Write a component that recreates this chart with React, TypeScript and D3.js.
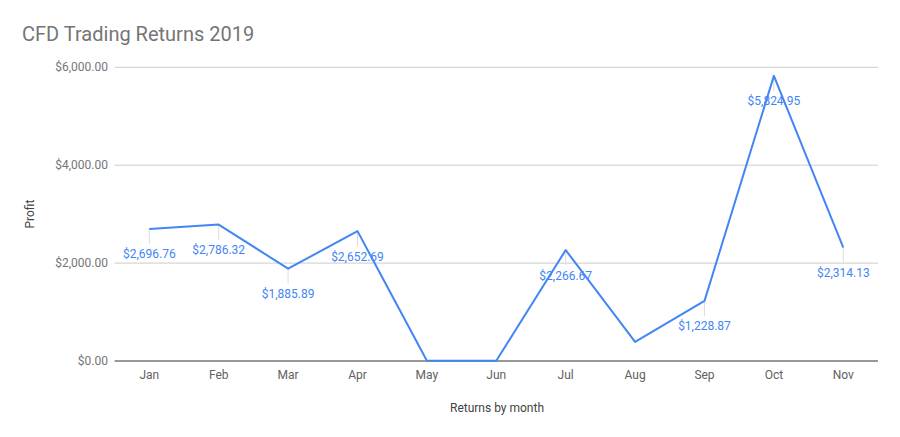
import React from "react";
import * as d3 from "d3";

const months = ["Jan", "Feb", "Mar", "Apr", "May", "Jun", "Jul", "Aug", "Sep", "Oct", "Nov"];
const profits = [2696.76, 2786.32, 1885.89, 2652.69, 5, 5, 2266.67, 390, 1228.87, 5824.95, 2314.13];
const showLabel = [true, true, true, true, false, false, true, false, true, true, true];
const yTicks = [0, 2000, 4000, 6000];

const W = 900, H = 437;
const left = 114.6, right = 878, top = 67.3, bottom = 361;

export default function App() {
  const x = d3.scaleBand<string>().domain(months).range([left, right]);
  const y = d3.scaleLinear().domain([0, 6000]).range([bottom, top]);
  const fmt = (v: number) => "$" + d3.format(",.2f")(v);
  const line = d3.line<number>()
    .x((_, i) => (x(months[i]) as number) + x.bandwidth() / 2)
    .y((d) => y(d));
  const font = "Roboto, 'Noto Sans', sans-serif";
  return (
    <svg width={W} height={H} style={{ position: "absolute", left: 0, top: 0, fontFamily: font }}>
      <rect width={W} height={H} fill="#fff" />
      <text x={22} y={41} fontSize={20} fill="#757575">CFD Trading Returns 2019</text>
      {yTicks.map((t) => (
        <g key={t}>
          <line x1={left} x2={right} y1={y(t)} y2={y(t)} stroke={t === 0 ? "#333" : "#ccc"} strokeWidth={1} />
          <text x={108} y={y(t) + 4} fontSize={12} fill="#757575" textAnchor="end">{fmt(t)}</text>
        </g>
      ))}
      {months.map((m) => (
        <text key={m} x={(x(m) as number) + x.bandwidth() / 2} y={379} fontSize={12} fill="#616161" textAnchor="middle">{m}</text>
      ))}
      <text x={497} y={412} fontSize={12} fill="#424242" textAnchor="middle">Returns by month</text>
      <text transform={`translate(34,${(top + bottom) / 2}) rotate(-90)`} fontSize={12} fill="#424242" textAnchor="middle">Profit</text>
      {profits.map((v, i) =>
        showLabel[i] ? (
          <line key={"l" + i} x1={(x(months[i]) as number) + x.bandwidth() / 2} x2={(x(months[i]) as number) + x.bandwidth() / 2}
            y1={y(v)} y2={y(v) + 15} stroke="#ddd" strokeWidth={1} />
        ) : null
      )}
      <path d={line(profits) || ""} fill="none" stroke="#4285f4" strokeWidth={2} strokeLinejoin="round" />
      {profits.map((v, i) =>
        showLabel[i] ? (
          <text key={"t" + i} x={(x(months[i]) as number) + x.bandwidth() / 2} y={y(v) + 29.5} fontSize={12} fill="#4285f4" textAnchor="middle">{fmt(v)}</text>
        ) : null
      )}
    </svg>
  );
}
